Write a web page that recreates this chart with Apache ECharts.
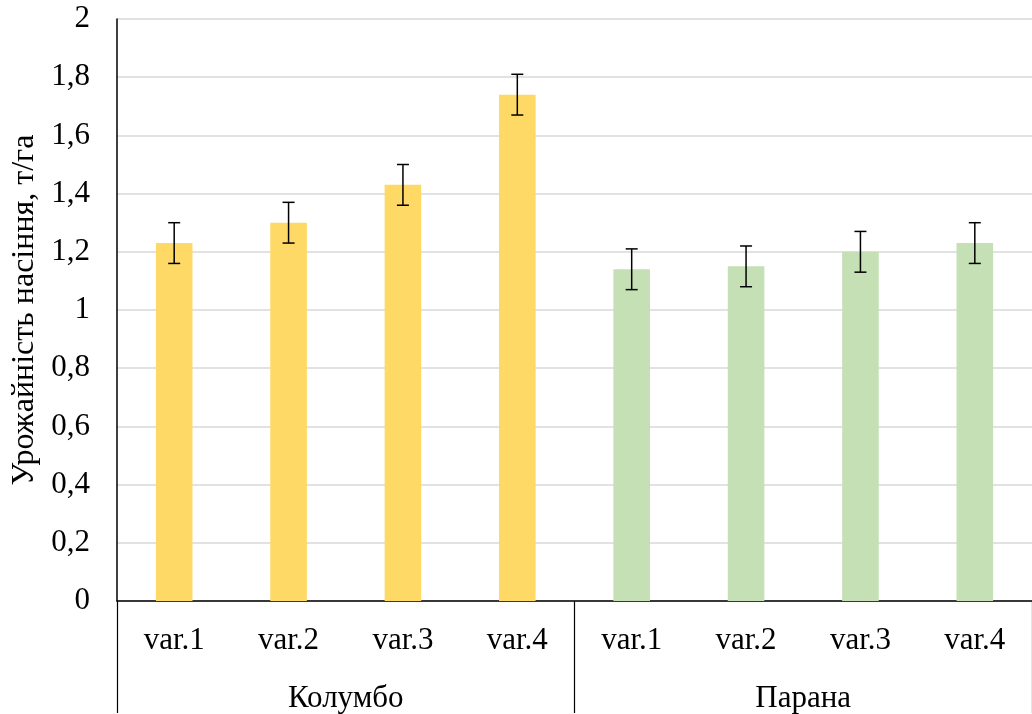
<!DOCTYPE html>
<html>
<head>
<meta charset="utf-8">
<script src="https://cdn.jsdelivr.net/npm/echarts@6/dist/echarts.min.js"></script>
<style>
html,body{margin:0;padding:0;background:#fff;}
#c{width:1032px;height:714px;}
</style>
</head>
<body>
<div id="c"></div>
<script>
// ---- data ----
var groups = ['Колумбо', 'Парана'];
var variants = ['var.1', 'var.2', 'var.3', 'var.4'];
var kolumbo = [1.23, 1.30, 1.43, 1.74];
var parana = [1.14, 1.15, 1.20, 1.23];
var kolumboErr = [0.07, 0.07, 0.07, 0.07];
var paranaErr = [0.07, 0.07, 0.07, 0.07];
var yTicks = [0, 0.2, 0.4, 0.6, 0.8, 1, 1.2, 1.4, 1.6, 1.8, 2];
var yName = 'Урожайність насіння, т/га';

// ---- build ----
var colors = ['#FFD966', '#C5E0B4'];
var cats = [], barData = [], errData = [];
var sets = [[kolumbo, kolumboErr], [parana, paranaErr]];
groups.forEach(function (g, gi) {
  variants.forEach(function (v, vi) {
    var idx = cats.length;
    cats.push(v);
    var val = sets[gi][0][vi];
    var e = sets[gi][1][vi];
    barData.push({ value: val, itemStyle: { color: colors[gi] } });
    errData.push([idx, val - e, val + e]);
  });
});

var font = 'Liberation Serif';
var chart = echarts.init(document.getElementById('c'));
chart.setOption({
  animation: false,
  grid: { left: 117, right: 0, top: 19, bottom: 112, containLabel: false },
  xAxis: [
    {
      type: 'category', data: cats, position: 'bottom',
      axisLine: { show: true, lineStyle: { color: '#000', width: 1.5 } },
      axisTick: { show: false },
      axisLabel: { color: '#000', fontFamily: font, fontSize: 31, margin: 24, interval: 0 },
      splitLine: { show: false }
    },
    {
      type: 'category', data: groups, position: 'bottom', offset: 0,
      axisLine: { show: false },
      axisTick: { show: true, length: 112, inside: false, lineStyle: { color: '#000', width: 1.2 } },
      axisLabel: { color: '#000', fontFamily: font, fontSize: 31, margin: 82, interval: 0 },
      splitLine: { show: false }
    }
  ],
  yAxis: {
    type: 'value', min: yTicks[0], max: yTicks[yTicks.length - 1], interval: 0.2,
    name: yName, nameLocation: 'middle', nameRotate: 90, nameGap: 70,
    nameTextStyle: { color: '#000', fontFamily: font, fontSize: 32 },
    axisLine: { show: true, lineStyle: { color: '#000', width: 1.5 } },
    axisTick: { show: false },
    axisLabel: {
      color: '#000', fontFamily: font, fontSize: 31, margin: 27,
      formatter: function (v) { return String(Math.round(v * 10) / 10).replace('.', ','); }
    },
    splitLine: { show: true, lineStyle: { color: '#D9D9D9', width: 1.5 } }
  },
  series: [
    {
      type: 'bar', data: barData, barWidth: '32%', xAxisIndex: 0
    },
    {
      type: 'custom', xAxisIndex: 0, data: errData, z: 10,
      renderItem: function (params, api) {
        var x = api.value(0);
        var lo = api.coord([x, api.value(1)]);
        var hi = api.coord([x, api.value(2)]);
        var hw = 6;
        var st = { stroke: '#000', lineWidth: 1.5 };
        return {
          type: 'group',
          children: [
            { type: 'line', shape: { x1: lo[0], y1: lo[1], x2: hi[0], y2: hi[1] }, style: st },
            { type: 'line', shape: { x1: lo[0] - hw, y1: lo[1], x2: lo[0] + hw, y2: lo[1] }, style: st },
            { type: 'line', shape: { x1: hi[0] - hw, y1: hi[1], x2: hi[0] + hw, y2: hi[1] }, style: st }
          ]
        };
      }
    }
  ]
});
</script>
</body>
</html>
